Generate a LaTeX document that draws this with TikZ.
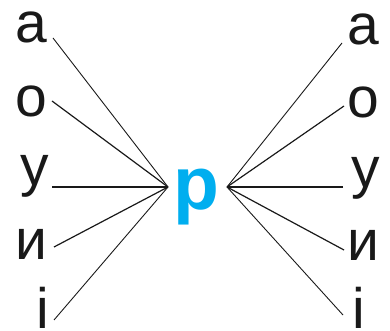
\documentclass[tikz,border=0pt]{standalone}
\usepackage{fontspec}
\setmainfont{Liberation Sans}
\definecolor{pcyan}{HTML}{00AEEF}
\tikzset{
  letter/.style={inner sep=0pt, anchor=base, text height=0.72em, text depth=0pt, font=\fontsize{57}{60}\selectfont, text=black!90},
  center/.style={inner sep=0pt, anchor=base, font=\fontsize{75}{78}\selectfont\bfseries, text=pcyan},
  ray/.style={draw=black!90, line width=0.9pt},
  rayb/.style={draw=black!90, line width=1.2pt}
}
\begin{document}
\begin{tikzpicture}[x=1pt,y=1pt]
\useasboundingbox (0,0) rectangle (390,331);
% left letters
\node[letter] (la) at (31.5,288) {а};
\node[letter] (lo) at (31.5,214) {о};
\node[letter] (lu) at (35,145) {у};
\node[letter] (li) at (31.5,71) {и};
\node[letter] (lii) at (42.5,2) {і};
% right letters
\node[letter] (ra) at (363.5,286) {а};
\node[letter] (ro) at (363.5,213) {о};
\node[letter] (ru) at (366,143) {у};
\node[letter] (ri) at (363.5,70) {и};
\node[letter] (rii) at (359,2) {і};
% centre
\node[center] (p) at (196.5,121) {р};
\coordinate (L) at (168,144);
\coordinate (R) at (227,144);
% line ends
\coordinate (a1) at (53,293);
\coordinate (o1) at (52,230);
\coordinate (u1) at (52,144);
\coordinate (i1) at (54,84);
\coordinate (ii1) at (54,11);
\coordinate (a2) at (342,288);
\coordinate (o2) at (344,225);
\coordinate (u2) at (343,144);
\coordinate (i2) at (344,81);
\coordinate (ii2) at (343,16);
\draw[ray] (a1) -- (L);
\draw[rayb] (o1) -- (L);
\draw[rayb] (u1) -- (L);
\draw[rayb] (i1) -- (L);
\draw[ray] (ii1) -- (L);
\draw[ray] (a2) -- (R);
\draw[rayb] (o2) -- (R);
\draw[rayb] (u2) -- (R);
\draw[rayb] (i2) -- (R);
\draw[ray] (ii2) -- (R);
\end{tikzpicture}
\end{document}
